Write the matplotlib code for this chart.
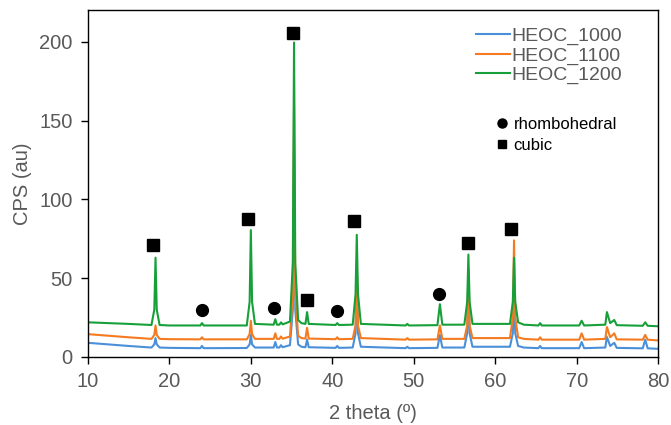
import matplotlib
matplotlib.use('Agg')
import matplotlib.pyplot as plt
from matplotlib.lines import Line2D

plt.rcParams['font.family'] = ['Liberation Sans', 'DejaVu Sans']

# Knot positions of the traces (2 theta) and intensities
two_theta = [10, 15, 17.8, 18.15, 18.3, 18.45, 18.8, 20, 23.8, 24.0, 24.2,
             29.5, 29.85, 30.0, 30.15, 30.5, 32.8, 33.0, 33.2, 33.5, 33.7, 33.9,
             34.8, 35.15, 35.3, 35.45, 35.8, 36.2, 36.7, 36.9, 37.1, 40.4, 40.6,
             40.8, 42.5, 42.85, 43.0, 43.15, 43.5, 49.0, 49.2, 49.4, 52.9, 53.2,
             53.5, 56.2, 56.55, 56.7, 56.85, 57.2, 61.8, 62.15, 62.3, 62.45,
             62.8, 63.5, 65.3, 65.5, 65.7, 70.3, 70.6, 70.9, 73.5, 73.7, 74.1,
             74.6, 74.9, 78.1, 78.4, 78.7, 80]

heoc_1000 = [9, 7, 6, 8, 12, 8, 6, 5.8, 5.6, 7, 5.6,
             5.7, 8, 14, 8, 6, 6, 9.5, 6, 6, 7.5, 6.2,
             7.5, 30, 130, 30, 8, 6.5, 6.2, 11, 6.2, 5.8, 7,
             5.8, 6, 15, 50, 15, 6.5, 5.6, 6.5, 5.6, 5.8, 14,
             6, 6, 15, 45, 15, 6.5, 6.5, 15, 40, 15,
             7, 6, 5.6, 7, 5.6, 5.6, 9.5, 5.6, 6, 12.7, 7,
             9, 5.8, 5.5, 11, 5.5, 5.2]

heoc_1100 = [14.5, 12.5, 11.5, 14, 20, 14, 11.5, 11.3, 11.2, 12.5, 11.2,
             11.2, 14.5, 23, 14.5, 11.5, 11.5, 15, 11.5, 11.5, 13, 11.6,
             13, 40, 160, 40, 13.5, 12, 11.7, 18.5, 11.7, 11.3, 12.5,
             11.3, 11.5, 20, 60, 20, 12, 11, 12, 11, 11.2, 20,
             11.5, 11.5, 20, 55, 20, 12, 12, 25, 74, 25,
             12.5, 11.5, 11, 12.5, 11, 11, 15, 11, 11.5, 19, 12.5,
             15, 11.2, 11, 14, 11, 10.5]

heoc_1200 = [22, 21, 20.3, 30, 63, 30, 20.3, 20, 20, 21.5, 20,
             20, 35, 80.5, 35, 21, 20.5, 24, 20.5, 20.5, 22, 20.7,
             22.5, 60, 199.5, 60, 23.5, 21.5, 21, 28.5, 21, 20.3, 21.5,
             20.3, 20.5, 40, 77.5, 40, 21, 20, 21, 20, 20.2, 33.5,
             20.5, 20.5, 35, 65, 35, 21, 21, 35, 63, 35,
             22, 20.5, 20, 21.5, 20, 20, 23, 20, 20.5, 28.5, 21.5,
             23.5, 20.2, 19.8, 22, 19.8, 19.5]

# Phase markers
cubic_x = [18.0, 29.7, 35.2, 36.9, 42.7, 56.7, 61.9]
cubic_y = [71, 87.6, 205.7, 36.2, 86.3, 72.4, 81.4]
rhombo_x = [24.0, 32.8, 40.6, 53.1]
rhombo_y = [29.8, 31, 29.3, 40]

BLUE = '#4a90d9'
ORANGE = '#f47b20'
GREEN = '#17a03a'
GREY = '#595959'

fig = plt.figure(figsize=(6.71, 4.25), dpi=100)
ax = fig.add_axes([0.131, 0.16, 0.85, 0.816])

ax.plot(two_theta, heoc_1000, color=BLUE, lw=1.5, label='HEOC_1000')
ax.plot(two_theta, heoc_1100, color=ORANGE, lw=1.5, label='HEOC_1100')
ax.plot(two_theta, heoc_1200, color=GREEN, lw=1.5, label='HEOC_1200')

ax.plot(cubic_x, cubic_y, 's', color='black', ms=8, ls='none')
ax.plot(rhombo_x, rhombo_y, 'o', color='black', ms=8.5, ls='none')

ax.set_xlim(10, 80)
ax.set_ylim(0, 220)
ax.set_xticks(range(10, 81, 10))
ax.set_yticks(range(0, 201, 50))
ax.tick_params(axis='both', labelsize=14.5, colors='black', labelcolor=GREY,
               length=5, width=1, pad=6)
for s in ax.spines.values():
    s.set_color('black')
    s.set_linewidth(1)

ax.set_xlabel('2 theta (º)', fontsize=14.5, color=GREY, labelpad=9)
ax.set_ylabel('CPS (au)', fontsize=14.5, color=GREY, labelpad=5)

leg1 = ax.legend(loc='upper left', bbox_to_anchor=(0.709, 0.935),
                 bbox_transform=fig.transFigure, frameon=False, fontsize=14,
                 borderpad=0, handlelength=1.75, handletextpad=0.1,
                 labelspacing=0.08, borderaxespad=0)
for t in leg1.get_texts():
    t.set_color(GREY)
ax.add_artist(leg1)

handles = [Line2D([], [], marker='o', color='black', ls='none', ms=6.5),
           Line2D([], [], marker='s', color='black', ls='none', ms=6)]
ax.legend(handles, ['rhombohedral', 'cubic'], loc='upper left',
          bbox_to_anchor=(0.738, 0.724), bbox_transform=fig.transFigure,
          frameon=False, fontsize=12, borderpad=0, handlelength=0.8,
          handletextpad=0.3, labelspacing=0.35, borderaxespad=0)

fig.savefig('out.png', dpi=100)
